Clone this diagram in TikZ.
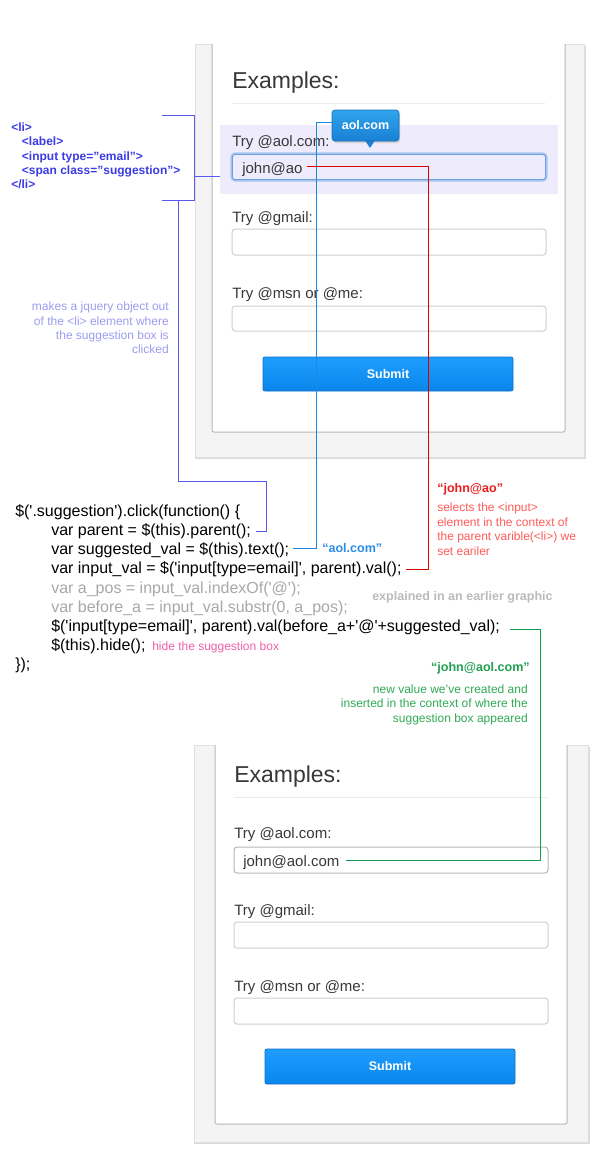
\documentclass[tikz,border=0pt]{standalone}
\usepackage{fontspec}
\setmainfont{Liberation Sans}[Ligatures=TeXOff]
\usetikzlibrary{calc}
\definecolor{htmlc}{HTML}{3B3BE6}
\definecolor{brk}{HTML}{5A5AF0}
\definecolor{lpur}{HTML}{9C9CF0}
\definecolor{lav}{HTML}{EDEBFC}
\definecolor{bline}{HTML}{1A88E0}
\definecolor{blab}{HTML}{2A8EE6}
\definecolor{rline}{HTML}{DD0000}
\definecolor{rbold}{HTML}{E81E1E}
\definecolor{rtext}{HTML}{FF5A5A}
\definecolor{gline}{HTML}{10A050}
\definecolor{gbold}{HTML}{20A050}
\definecolor{gtext}{HTML}{30AA55}
\definecolor{codegray}{HTML}{A8A8A8}
\definecolor{notegray}{HTML}{BBBBBB}
\definecolor{pinkc}{HTML}{F060A8}
\definecolor{formtext}{HTML}{383838}
\definecolor{panel}{HTML}{F4F4F4}
\definecolor{panelshadow}{HTML}{DADADA}
\definecolor{cardborder}{HTML}{B8B8B8}
\definecolor{inborder}{HTML}{CFCFCF}
\definecolor{focusglow}{HTML}{A6C4EE}
\definecolor{focusline}{HTML}{6E9FDB}
\definecolor{btntop}{HTML}{1E9DFF}
\definecolor{btnbot}{HTML}{0A86EA}
\definecolor{btnborder}{HTML}{0B6FC8}
\definecolor{tiptop}{HTML}{30A4EC}
\definecolor{tipbot}{HTML}{1A80D4}
\definecolor{tipborder}{HTML}{166FC0}
\tikzset{
  txt/.style={inner sep=0pt, anchor=base west},
  codet/.style={txt, font=\fontsize{12}{14}\selectfont, text=black},
  codegr/.style={codet, text=codegray},
  htmlt/.style={txt, font=\fontsize{9}{11}\selectfont\bfseries, text=htmlc},
  annt/.style={inner sep=0pt, font=\fontsize{9}{11}\selectfont},
  annb/.style={inner sep=0pt, font=\fontsize{9.4}{11}\selectfont\bfseries},
  conn/.style={line width=0.75pt},
  exam/.style={txt, font=\fontsize{17.25}{20}\selectfont, text=formtext},
  flabel/.style={txt, font=\fontsize{11.25}{13}\selectfont, text=formtext},
  inbox/.style={draw=inborder, fill=white, line width=0.75pt, rounded corners=2.25pt},
  btnbox/.style={top color=btntop, bottom color=btnbot, rounded corners=1.5pt},
  btnline/.style={draw=btnborder, line width=0.6pt, rounded corners=1.5pt},
  btntext/.style={inner sep=0pt, font=\fontsize{9.4}{11}\selectfont\bfseries, text=white},
}
\begin{document}
\begin{tikzpicture}[x=0.75pt,y=-0.75pt]
\useasboundingbox (0,0) rectangle (600,1174);
\fill[white] (0,0) rectangle (600,1174);

% ================= top form =================
\fill[panelshadow] (195,45.5) rectangle (585.5,459);
\filldraw[fill=panel, draw=black!12, line width=0.5pt] (195,44) rectangle (584,457);
\fill[white, rounded corners=1.5pt] (212,40) -- (212,432) -- (565,432) -- (565,40) -- cycle;
\fill[white] (212,44) rectangle (565,60);
\draw[cardborder, line width=0.75pt, rounded corners=1.5pt] (212,44) -- (212,432) -- (565,432) -- (565,44);
\node[exam] (ex1) at (232,88) {Examples:};
\draw[black!8, line width=0.75pt] (232,103) -- (545,103);
\fill[lav] (220,125) rectangle (558,194);
\coordinate (hlw) at (220,176);
\node[flabel] (t1) at (232,146) {Try @aol.com:};
\draw[focusglow, line width=2.4pt, rounded corners=2.5pt] (232,154) rectangle (546,180);
\draw[focusline, fill=lav, line width=0.6pt, rounded corners=2pt] (232.5,154.5) rectangle (545.5,179.5);
\node[flabel] (jao) at (242,173) {john@ao};
\node[flabel] (t2) at (232,222) {Try @gmail:};
\draw[inbox] (232,229) rectangle (546,255);
\node[flabel] (t3) at (232,298) {Try @msn or @me:};
\draw[inbox] (232,306) rectangle (546,331);
\shade[btnbox] (263,357) rectangle (513,391);
\draw[btnline] (263,357) rectangle (513,391);
\node[btntext] (sub1) at (388,374) {Submit};

% tooltip
\fill[black!18, rounded corners=2.25pt] (333,112) rectangle (400,143);
\shade[top color=tiptop, bottom color=tipbot, rounded corners=2.25pt] (332,110) rectangle (399,141);
\fill[tipbot] (365,140.3) -- (375,140.3) -- (370,148) -- cycle;
\draw[tipborder, line width=0.5pt, rounded corners=2.25pt] (332,110) rectangle (399,141);
\node[btntext] (tip) at (365.5,125.5) {aol.com};
\coordinate (tipw) at (332,122);

% ================= bottom form =================
\fill[panelshadow] (194,746.5) rectangle (589.5,1144);
\filldraw[fill=panel, draw=black!12, line width=0.5pt] (194,745) rectangle (588,1142);
\fill[white, rounded corners=1.5pt] (215,740) -- (215,1124) -- (567,1124) -- (567,740) -- cycle;
\fill[white] (215,745) rectangle (567,760);
\draw[cardborder, line width=0.75pt, rounded corners=1.5pt] (215,745) -- (215,1124) -- (567,1124) -- (567,745);
\node[exam] (ex2) at (234,782) {Examples:};
\draw[black!8, line width=0.75pt] (234,797) -- (547,797);
\node[flabel] (b1) at (234,838) {Try @aol.com:};
\draw[inbox, draw=black!28] (234,847) rectangle (548,873);
\node[flabel] (jac) at (243,866) {john@aol.com};
\node[flabel] (b2) at (234,915) {Try @gmail:};
\draw[inbox] (234,922) rectangle (548,948);
\node[flabel] (b3) at (234,991) {Try @msn or @me:};
\draw[inbox] (234,998) rectangle (548,1024);
\shade[btnbox] (265,1049) rectangle (515,1084);
\draw[btnline] (265,1049) rectangle (515,1084);
\node[btntext] (sub2) at (390,1066.5) {Submit};

% ================= html snippet =================
\node[htmlt] (h1) at (11,131) {<li>};
\node[htmlt] (h2) at (21.7,145.5) {<label>};
\node[htmlt] (h3) at (21.7,160) {<input type=”email”>};
\node[htmlt] (h4) at (21.7,174) {<span class=”suggestion”>};
\node[htmlt] (h5) at (11,188) {</li>};

\node[annt, anchor=base east, text=lpur] (p1) at (169,310.5) {makes a jquery object out};
\node[annt, anchor=base east, text=lpur] (p2) at (169,325) {of the <li> element where};
\node[annt, anchor=base east, text=lpur] (p3) at (169,339.5) {the suggestion box is};
\node[annt, anchor=base east, text=lpur] (p4) at (169,353.5) {clicked};

% ================= code =================
\node[codet] (c1) at (15,516) {\$('.suggestion').click(function() \{};
\node[codet] (c2) at (51,535) {var parent = \$(this).parent();};
\node[codet] (c3) at (51,554) {var suggested\_val = \$(this).text();};
\node[codet] (c4) at (51,573) {var input\_val = \$('input[type=email]', parent).val();};
\node[codegr] (c5) at (51,593) {var a\_pos = input\_val.indexOf('@');};
\node[codegr] (c6) at (51,612) {var before\_a = input\_val.substr(0, a\_pos);};
\node[codet] (c7) at (51,631) {\$('input[type=email]', parent).val(before\_a+'@'+suggested\_val);};
\node[codet] (c8) at (51,650) {\$(this).hide();};
\node[codet] (c9) at (15,669) {\});};
\node[annt, anchor=base west, text=pinkc] (pk) at (152,650) {hide the suggestion box};

% ================= annotations =================
\node[annb, anchor=base west, text=blab] (ab) at (322,552) {“aol.com”};

\node[annb, anchor=base west, text=rbold] (r0) at (437,492) {“john@ao”};
\node[annt, anchor=base west, text=rtext] (r1) at (437,511.5) {selects the <input>};
\node[annt, anchor=base west, text=rtext] (r2) at (437,526) {element in the context of};
\node[annt, anchor=base west, text=rtext] (r3) at (437,540.5) {the parent varible(<li>) we};
\node[annt, anchor=base west, text=rtext] (r4) at (437,555) {set eariler};

\node[annb, anchor=base west, text=notegray] (gn) at (372,600) {explained in an earlier graphic};

\node[annb, anchor=base east, text=gbold] (g0) at (530,671) {“john@aol.com”};
\node[annt, anchor=base east, text=gtext] (g1) at (528,693) {new value we’ve created and};
\node[annt, anchor=base east, text=gtext] (g2) at (528,707.5) {inserted in the context of where the};
\node[annt, anchor=base east, text=gtext] (g3) at (528,722) {suggestion box appeared};

% ================= connectors =================
\coordinate (bt) at (162,115);
\coordinate (bb) at (162,200);
\coordinate (bl) at (178,200);
\draw[brk, conn] (bt) -- (194,115) -- (194,200) -- (bb);
\draw[brk, conn] (194,176) -- (hlw);
\draw[brk, conn] (bl) |- (266,481) |- ($(c2.base east)+(5,-4)$);

\draw[bline, conn] ($(c3.base east)+(4,-6)$) -| (316,122) -- (tipw);
\draw[rline, conn] ($(jao.base east)+(4,-7)$) -| (428,569) -- ($(c4.base east)+(4,-4)$);
\draw[gline, conn] ($(c7.base east)+(10,-2)$) -| (540,860) -- ($(jac.base east)+(6,-6)$);
\end{tikzpicture}
\end{document}
